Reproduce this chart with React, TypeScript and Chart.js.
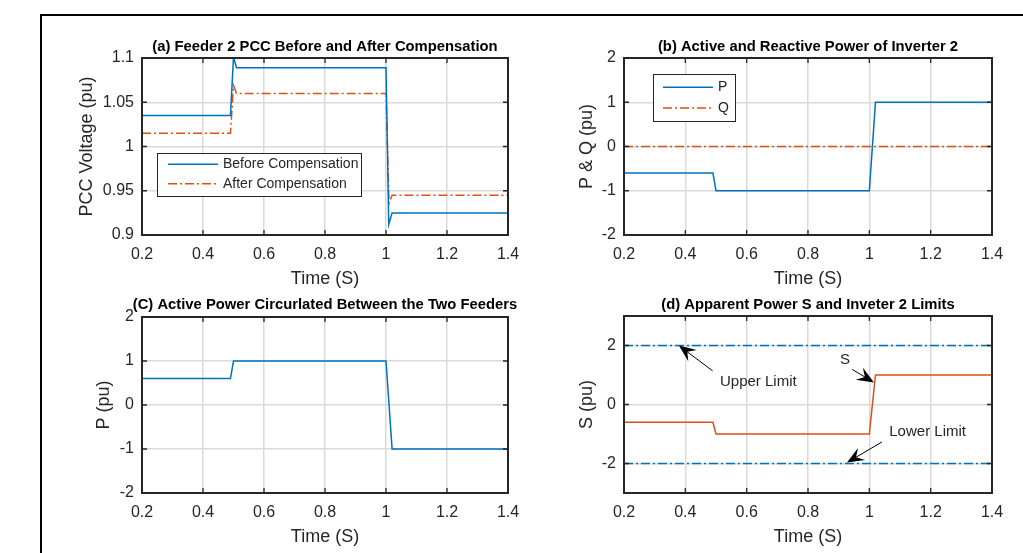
import React, { useEffect, useRef } from "react";
import { Chart, registerables } from "chart.js";

Chart.register(...registerables);

const FONT = '"Liberation Sans", Arial, Helvetica, sans-serif';
const TXT = "#262626";
const BLUE = "#0072BD";
const ORANGE = "#D95319";
const GRID = "#dadada";
const DASHDOT = [9, 3, 2, 3];

// ---------- data ----------
const xTicks = [0.2, 0.4, 0.6, 0.8, 1.0, 1.2, 1.4];

// (a) PCC voltage of feeder 2
const timeBefore = [0.2, 0.49, 0.5, 0.51, 1.0, 1.009, 1.02, 1.4];
const beforeComp = [1.035, 1.035, 1.101, 1.089, 1.089, 0.912, 0.925, 0.925];
const timeAfter = [0.2, 0.49, 0.5, 0.51, 1.0, 1.01, 1.02, 1.4];
const afterComp = [1.015, 1.015, 1.069, 1.06, 1.06, 0.936, 0.945, 0.945];
const yTicksA = [0.9, 0.95, 1.0, 1.05, 1.1];

// (b) P and Q of inverter 2
const timeP2 = [0.2, 0.49, 0.5, 1.0, 1.02, 1.4];
const pInv2 = [-0.6, -0.6, -1, -1, 1, 1];
const timeQ2 = [0.2, 1.4];
const qInv2 = [0, 0];
const yTicksB = [-2, -1, 0, 1, 2];

// (c) circulated active power
const timeCirc = [0.2, 0.49, 0.5, 1.0, 1.02, 1.4];
const pCirc = [0.6, 0.6, 1, 1, -1, -1];
const yTicksC = [-2, -1, 0, 1, 2];

// (d) apparent power and limits
const timeS = [0.2, 0.49, 0.5, 1.0, 1.02, 1.4];
const sApp = [-0.6, -0.6, -1, -1, 1, 1];
const timeLim = [0.2, 1.4];
const upperLim = [2, 2];
const lowerLim = [-2, -2];
const yTicksD = [-2, 0, 2];

// (d) annotations, in data units
const notesD = [
  { x: 0.513, y: 0.76, text: "Upper Limit", align: "left" },
  { x: 0.921, y: 1.51, text: "S", align: "center" },
  { x: 1.065, y: -0.92, text: "Lower Limit", align: "left" },
];
const arrowsD = [
  { from: [0.489, 1.14], to: [0.379, 2.0] },
  { from: [0.944, 1.19], to: [1.015, 0.75] },
  { from: [1.041, -1.27], to: [0.927, -1.97] },
];

const pts = (xs: number[], ys: number[]) => xs.map((x, i) => ({ x, y: ys[i] }));
const fmt = (v: any) => String(Number(Number(v).toFixed(3)));

// ---------- plugin: MATLAB-like box, ticks, title, legend, annotations ----------
const matlabPlugin = {
  id: "matlabAxes",
  afterDraw(chart: any) {
    const o = chart.options.plugins.matlabAxes;
    if (!o) return;
    const { ctx, chartArea: a } = chart;
    const xs = chart.scales.x;
    const ys = chart.scales.y;
    ctx.save();

    // annotations
    if (o.notes) {
      ctx.fillStyle = TXT;
      ctx.font = `15px ${FONT}`;
      ctx.textBaseline = "middle";
      o.notes.forEach((n: any) => {
        ctx.textAlign = n.align;
        ctx.fillText(n.text, xs.getPixelForValue(n.x), ys.getPixelForValue(n.y));
      });
    }
    if (o.arrows) {
      ctx.strokeStyle = "#000";
      ctx.fillStyle = "#000";
      ctx.lineWidth = 1;
      o.arrows.forEach((ar: any) => {
        const x1 = xs.getPixelForValue(ar.from[0]);
        const y1 = ys.getPixelForValue(ar.from[1]);
        const x2 = xs.getPixelForValue(ar.to[0]);
        const y2 = ys.getPixelForValue(ar.to[1]);
        const ang = Math.atan2(y2 - y1, x2 - x1);
        const c = Math.cos(ang), s = Math.sin(ang);
        const L = 17, W = 7;
        ctx.beginPath();
        ctx.moveTo(x1, y1);
        ctx.lineTo(x2 - c * L * 0.6, y2 - s * L * 0.6);
        ctx.stroke();
        const bx = x2 - c * L, by = y2 - s * L;
        const nx = -s, ny = c;
        ctx.beginPath();
        ctx.moveTo(x2, y2);
        ctx.lineTo(bx + nx * W, by + ny * W);
        ctx.lineTo(x2 - c * L * 0.62, y2 - s * L * 0.62);
        ctx.lineTo(bx - nx * W, by - ny * W);
        ctx.closePath();
        ctx.fill();
      });
    }

    // inward ticks
    const tl = 5;
    ctx.strokeStyle = TXT;
    ctx.lineWidth = 1.3;
    ctx.beginPath();
    xs.ticks.forEach((t: any) => {
      const p = xs.getPixelForValue(t.value);
      ctx.moveTo(p, a.bottom);
      ctx.lineTo(p, a.bottom - tl);
      ctx.moveTo(p, a.top);
      ctx.lineTo(p, a.top + tl);
    });
    ys.ticks.forEach((t: any) => {
      const p = ys.getPixelForValue(t.value);
      ctx.moveTo(a.left, p);
      ctx.lineTo(a.left + tl, p);
      ctx.moveTo(a.right, p);
      ctx.lineTo(a.right - tl, p);
    });
    ctx.stroke();
    // box
    ctx.lineWidth = 2;
    ctx.strokeRect(a.left, a.top, a.right - a.left, a.bottom - a.top);

    // title
    ctx.fillStyle = "#000";
    ctx.font = `bold 14.8px ${FONT}`;
    ctx.textAlign = "center";
    ctx.textBaseline = "middle";
    ctx.fillText(o.title, (a.left + a.right) / 2, a.top - o.titleGap);

    // legend
    if (o.legend) {
      const L = o.legend;
      const bx = a.left + L.dx, by = a.top + L.dy;
      ctx.fillStyle = "#fff";
      ctx.fillRect(bx, by, L.w, L.h);
      ctx.strokeStyle = TXT;
      ctx.lineWidth = 1;
      ctx.strokeRect(bx + 0.5, by + 0.5, L.w, L.h);
      chart.data.datasets.forEach((ds: any, i: number) => {
        const y = by + L.row0 + i * L.rowGap;
        ctx.strokeStyle = ds.borderColor;
        ctx.lineWidth = ds.borderWidth;
        ctx.setLineDash(ds.borderDash || []);
        ctx.beginPath();
        ctx.moveTo(bx + L.lineX, y);
        ctx.lineTo(bx + L.lineX + L.lineLen, y);
        ctx.stroke();
        ctx.setLineDash([]);
        ctx.fillStyle = TXT;
        ctx.font = `14px ${FONT}`;
        ctx.textAlign = "left";
        ctx.textBaseline = "middle";
        ctx.fillText(ds.label, bx + L.textX, y);
      });
    }
    ctx.restore();
  },
};

// ---------- panels ----------
const Y_AXIS_W = 110;
const PAD_TOP = 26;
const PAD_RIGHT = 24;
const X_AXIS_H = 56;

const line = (label: string, data: any[], color: string, dash?: number[]) => ({
  label,
  data,
  borderColor: color,
  backgroundColor: color,
  borderWidth: 1.5,
  borderDash: dash || [],
  pointRadius: 0,
  tension: 0,
  fill: false,
});

const panels: any[] = [
  {
    key: "a",
    plot: { l: 142, t: 58, r: 508, b: 235 },
    yMin: 0.9, yMax: 1.1, yTicks: yTicksA,
    yLabel: "PCC Voltage (pu)", yTitlePad: 44,
    title: "(a) Feeder 2 PCC Before and After Compensation", titleGap: 11.5,
    datasets: [
      line("Before Compensation", pts(timeBefore, beforeComp), BLUE),
      line("After Compensation", pts(timeAfter, afterComp), ORANGE, DASHDOT),
    ],
    legend: { dx: 15, dy: 95, w: 204, h: 43, row0: 11.3, rowGap: 19.4, lineX: 11, lineLen: 50, textX: 66 },
  },
  {
    key: "b",
    plot: { l: 624, t: 58, r: 992, b: 235 },
    yMin: -2, yMax: 2, yTicks: yTicksB,
    yLabel: "P & Q (pu)", yTitlePad: 62,
    title: "(b) Active and Reactive Power of Inverter 2", titleGap: 11.5,
    datasets: [
      line("P", pts(timeP2, pInv2), BLUE),
      line("Q", pts(timeQ2, qInv2), ORANGE, DASHDOT),
    ],
    legend: { dx: 29, dy: 16, w: 82, h: 47, row0: 13.3, rowGap: 20.7, lineX: 10, lineLen: 50, textX: 65 },
  },
  {
    key: "c",
    plot: { l: 142, t: 317, r: 508, b: 493 },
    yMin: -2, yMax: 2, yTicks: yTicksC,
    yLabel: "P (pu)", yTitlePad: 61,
    title: "(C) Active Power Circurlated Between the Two Feeders", titleGap: 12.5,
    datasets: [line("P", pts(timeCirc, pCirc), BLUE)],
  },
  {
    key: "d",
    plot: { l: 624, t: 316, r: 992, b: 493 },
    yMin: -3, yMax: 3, yTicks: yTicksD,
    yLabel: "S (pu)", yTitlePad: 62,
    title: "(d) Apparent Power S and Inveter 2 Limits", titleGap: 11.5,
    datasets: [
      line("Upper Limit", pts(timeLim, upperLim), BLUE, DASHDOT),
      line("Lower Limit", pts(timeLim, lowerLim), BLUE, DASHDOT),
      line("S", pts(timeS, sApp), ORANGE),
    ],
    notes: notesD,
    arrows: arrowsD,
  },
];

function buildConfig(p: any): any {
  const tickArr = (arr: number[]) => (s: any) => {
    s.ticks = arr.map((v) => ({ value: v }));
  };
  return {
    type: "line",
    data: { datasets: p.datasets },
    plugins: [matlabPlugin],
    options: {
      animation: false,
      responsive: false,
      maintainAspectRatio: false,
      layout: { padding: { left: 0, top: PAD_TOP, right: PAD_RIGHT, bottom: 0 } },
      plugins: {
        legend: { display: false },
        title: { display: false },
        tooltip: { enabled: false },
        matlabAxes: {
          title: p.title,
          titleGap: p.titleGap,
          legend: p.legend,
          notes: p.notes,
          arrows: p.arrows,
        },
      },
      scales: {
        x: {
          type: "linear",
          min: 0.2,
          max: 1.4,
          afterBuildTicks: tickArr(xTicks),
          afterFit: (s: any) => {
            s.height = X_AXIS_H;
          },
          grid: { color: GRID, lineWidth: 1.5, drawTicks: false },
          border: { display: false },
          ticks: {
            padding: 10,
            color: TXT,
            font: { family: FONT, size: 16 },
            autoSkip: false,
            maxRotation: 0,
            callback: fmt,
          },
          title: {
            display: true,
            text: "Time (S)",
            color: TXT,
            font: { family: FONT, size: 18 },
            padding: { top: 0, bottom: 1 },
          },
        },
        y: {
          type: "linear",
          min: p.yMin,
          max: p.yMax,
          afterBuildTicks: tickArr(p.yTicks),
          afterFit: (s: any) => {
            s.width = Y_AXIS_W;
          },
          grid: { color: GRID, lineWidth: 1.5, drawTicks: false },
          border: { display: false },
          ticks: {
            padding: 8,
            color: TXT,
            font: { family: FONT, size: 16 },
            autoSkip: false,
            callback: fmt,
          },
          title: {
            display: true,
            text: p.yLabel,
            color: TXT,
            font: { family: FONT, size: 18 },
            padding: { top: p.yTitlePad, bottom: 0 },
          },
        },
      },
    },
  };
}

function Panel({ p }: { p: any }) {
  const ref = useRef<HTMLCanvasElement>(null);
  const w = Y_AXIS_W + (p.plot.r - p.plot.l) + PAD_RIGHT;
  const h = PAD_TOP + (p.plot.b - p.plot.t) + X_AXIS_H;
  const left = p.plot.l - Y_AXIS_W;
  const top = p.plot.t - PAD_TOP;
  useEffect(() => {
    const chart = new Chart(ref.current as HTMLCanvasElement, buildConfig(p));
    return () => chart.destroy();
  }, []);
  return (
    <canvas
      ref={ref}
      width={w}
      height={h}
      style={{ position: "absolute", left, top, width: w, height: h }}
    />
  );
}

export default function App() {
  return (
    <div>
      <div
        style={{
          position: "absolute",
          left: 40,
          top: 14,
          width: 983,
          height: 539,
          boxSizing: "border-box",
          borderTop: "2px solid #000",
          borderLeft: "2px solid #000",
        }}
      />
      {panels.map((p) => (
        <Panel key={p.key} p={p} />
      ))}
    </div>
  );
}
